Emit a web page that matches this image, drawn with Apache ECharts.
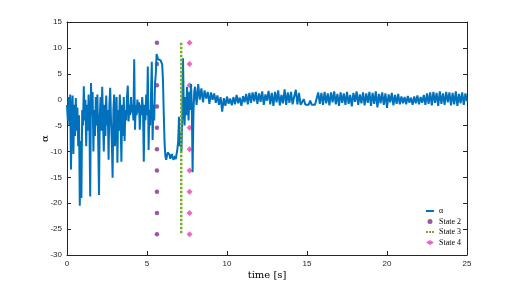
<!DOCTYPE html>
<html>
<head>
<meta charset="utf-8">
<script src="https://cdn.jsdelivr.net/npm/echarts@6/dist/echarts.min.js"></script>
<style>
  html, body { margin: 0; padding: 0; background: #fff; }
  #chart { width: 518px; height: 287px; }
</style>
</head>
<body>
<div id="chart"></div>
<script>
// alpha sampled every 0.05 s from 0 to 7.95 s
const alphaFast = [
  -1, -4, 0.5, -5, 1, -13.5, -2, 0.8, -10.5, -1,
  -7, 0.3, -6, -1.5, -9, -3, -20.5, -8, -19, -2,
  -5, 2.6, -4, 0, -9, -1, -6, 1, -4, -18.7,
  3.2, -3, 1.5, -10, -2, -7, 0.5, -5, 1, -8,
  -18.4, -3, 0.5, -6, 2.5, -4, -10, -1, -7, 0.8,
  -5, -2, -11.6, -1, 2.3, -4, -8, -15.1, -2, 1,
  -9, -3, 0.5, -12.2, -2, -6, 1, -4, -12, -1,
  -7, 0.5, -8, -2, -4, 0.5, 2.7, -4.2, -1, -3,
  0.5, -2.5, -1, -4, 7.8, -5.8, -1, -3, 0, -2.5,
  -0.5, -5.8, -1, -3, 0.5, -2, -12, -1, -4, 1,
  -3, 6.4, -9.7, -2, -5, 1, 7.3, -7.8, -1, -4,
  3, 5, 8.8, 8.2, 7.8, 8.0, 7.7, 7.6, 7.4, 6.8,
  3.5, -3, -8.5, -11, -11.6, -10.8, -10.2, -10.0, -10.6, -11.4,
  -11.2, -10.5, -10.8, -11.6, -11.3, -10.9, -11.5, -10.5, -9.5, -8,
  -3.3, -9, -6.5, -10, -4, 8, -2, -5, 0.5, -3,
  2.5, -1, -4, 1.5, -2, 3, -1, -14, -3, 1.5
];
// alpha sampled every 0.1 s from 8.0 to 25.0 s
const alphaSlow = [
  2.5, -1, 3, 0, 2.2, -0.5, 1.8, 0.2, 1.5, -0.8,
  1.4, 0, 1.2, -0.6, 0.8, -1, 0.5, -2.3, 0.3, -1.2,
  0.6, -0.8, 0.2, -1.1, 0.5, -0.9, 0.9, -0.7, 0.4, -1.2,
  0.7, -0.5, 1.1, -0.9, 1.3, -0.6, 1.4, -0.3, 1.5, -0.8,
  1.2, -0.4, 1.6, -1, 1.0, -0.2, 1.7, -0.9, 1.3, -1.2,
  1.5, -0.5, 1.8, -1.1, 0.9, -0.7, 2.0, -1.0, 1.4, -0.6,
  1.5, -0.9, 0.6, 1.9, -0.9, 1.3, -1.0, -0.9, 0.1, -1.0,
  -0.9, -1.0, -0.2, -1.0, -0.9, -1.0, -0.8, 1.4, -0.8, 1.3,
  -1.0, 1.5, -0.7, 1.2, -1.1, 1.4, -0.5, 1.6, -0.9, 1.1,
  -1.2, 1.4, -0.6, 1.2, -1.0, 1.5, -0.8, 0.9, -1.3, 1.3,
  -0.4, 1.6, -1.0, 1.0, -0.7, 1.4, -1.1, 1.2, -0.6, 1.5,
  -1.2, 1.3, -0.8, 1.6, -1.5, 1.1, -0.7, 1.4, -1.0, 1.2,
  -1.6, 1.0, -0.5, 1.3, -1.1, 0.9, -0.8, 1.1, -0.9, 0.6,
  -0.7, 0.5, -0.9, 0.7, -0.6, 0.4, -1.0, 0.6, -0.7, 0.8,
  -0.9, 0.5, -0.6, 0.9, -1.0, 1.2, -0.8, 1.4, -1.1, 1.5,
  -0.6, 1.3, -1.2, 1.6, -0.8, 1.2, -1.0, 1.5, -0.5, 1.4,
  -1.1, 1.3, -0.9, 1.6, -1.2, 1.1, -0.7, 1.4, -1.0, 1.2,
  -0.3
];
const fastStep = 0.05;
const slowStart = 8.0;
const slowStep = 0.1;

// state markers: same heights, different times
const stateLevels = [11, 6.9, 2.8, -1.3, -5.4, -9.6, -13.7, -17.8, -21.9, -26];
const state2Time = 5.62;
const state3Time = 7.14;
const state4Time = 7.66;

const xTicks = { min: 0, max: 25, interval: 5 };
const yTicks = { min: -30, max: 15, interval: 5 };

const alphaData = alphaFast.map((v, i) => [+(i * fastStep).toFixed(2), v])
  .concat(alphaSlow.map((v, i) => [+(slowStart + i * slowStep).toFixed(2), v]));

const axisColor = '#262626';
const labelFont = 'Liberation Sans';
const texFont = 'DejaVu Serif';

function xAx(pos, withLabels) {
  return {
    type: 'value', position: pos, min: xTicks.min, max: xTicks.max, interval: xTicks.interval,
    axisLine: { show: true, onZero: false, lineStyle: { color: axisColor, width: 1 } },
    axisTick: { show: true, inside: true, length: 4, lineStyle: { color: axisColor } },
    axisLabel: { show: withLabels, fontSize: 8, color: axisColor, fontFamily: labelFont, margin: 5 },
    splitLine: { show: false },
    name: withLabels ? 'time [s]' : '',
    nameLocation: 'middle', nameGap: 15, nameMoveOverlap: false,
    nameTextStyle: { fontFamily: texFont, fontSize: 10, color: '#000' }
  };
}
function yAx(pos, withLabels) {
  return {
    type: 'value', position: pos, min: yTicks.min, max: yTicks.max, interval: yTicks.interval,
    axisLine: { show: true, onZero: false, lineStyle: { color: axisColor, width: 1 } },
    axisTick: { show: true, inside: true, length: 4, lineStyle: { color: axisColor } },
    axisLabel: { show: withLabels, fontSize: 8, color: axisColor, fontFamily: labelFont, margin: 5 },
    splitLine: { show: false },
    name: withLabels ? 'α' : '',
    nameLocation: 'middle', nameGap: 17, nameRotate: 90, nameMoveOverlap: false,
    nameTextStyle: { fontFamily: texFont, fontSize: 10, color: '#000' }
  };
}

const chart = echarts.init(document.getElementById('chart'));
chart.setOption({
  animation: false,
  backgroundColor: '#fff',
  grid: { left: 67, right: 51, top: 22, bottom: 32 },
  xAxis: [xAx('bottom', true), xAx('top', false)],
  yAxis: [yAx('left', true), yAx('right', false)],
  legend: {
    orient: 'vertical', left: 421, top: 202,
    itemWidth: 8, itemHeight: 5, itemGap: 2.5,
    textStyle: { fontFamily: 'Liberation Serif', fontSize: 8, color: '#000' },
    data: [
      { name: 'α', icon: 'path://M0,0H8V2H0Z' },
      { name: 'State 2' },
      { name: 'State 3', icon: 'path://M0,0H2V2H0Z M3,0H5V2H3Z M6,0H8V2H6Z' },
      { name: 'State 4' }
    ]
  },
  series: [
    {
      name: 'α', type: 'line', data: alphaData, showSymbol: false, symbol: 'none',
      lineStyle: { color: '#0072BD', width: 2 }, itemStyle: { color: '#0072BD' }
    },
    {
      name: 'State 2', type: 'scatter', symbol: 'circle', symbolSize: 4.5,
      data: stateLevels.map(v => [state2Time, v]),
      itemStyle: { color: '#7E2F8E' }
    },
    {
      name: 'State 3', type: 'line', showSymbol: false, symbol: 'none',
      data: stateLevels.map(v => [state3Time, v]),
      lineStyle: { color: '#77AC30', width: 2.5, type: [2.5, 1.5] },
      itemStyle: { color: '#77AC30' }
    },
    {
      name: 'State 4', type: 'scatter', symbol: 'diamond', symbolSize: 6,
      data: stateLevels.map(v => [state4Time, v]),
      itemStyle: { color: '#F03CB4' }
    }
  ]
});
</script>
</body>
</html>
